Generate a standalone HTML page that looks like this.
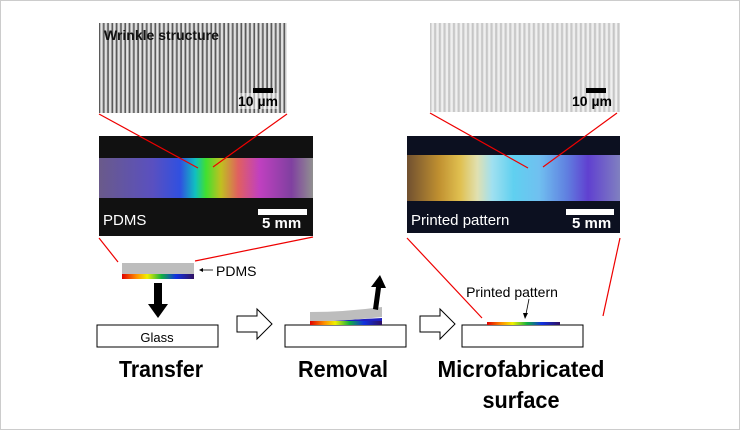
<!DOCTYPE html>
<html><head><meta charset="utf-8"><style>
body{margin:0;width:740px;height:430px;background:#fff;overflow:hidden;font-family:"Liberation Sans",sans-serif}
.frame{position:absolute;left:0;top:0;width:738px;height:428px;border:1px solid #ccc}
.a{position:absolute}
</style></head><body>
<div class="frame"></div>
<!-- left SEM -->
<div class="a" style="left:99px;top:23px;width:188px;height:90px;background:repeating-linear-gradient(90deg,#5a5a5a 0,#5a5a5a 1px,#d8d8d8 1.5px,#e8e8e8 3px,#777 4.3px)"></div>
<div class="a" style="left:104px;top:27px;font-weight:bold;font-size:14px;color:#111">Wrinkle structure</div>
<div class="a" style="left:253px;top:88px;width:20px;height:5px;background:#000"></div>
<div class="a" style="left:238px;top:93px;font-weight:bold;font-size:14px;color:#000;background:rgba(255,255,255,0.5)">10 µm</div>
<!-- left photo -->
<div class="a" style="left:99px;top:136px;width:214px;height:100px;background:#111"></div>
<div class="a" style="left:99px;top:158px;width:214px;height:40px;background:linear-gradient(90deg,#6a5a8a 0%,#5a50c0 25%,#3050e0 38%,#10c0c0 45%,#40e030 50%,#c0c020 57%,#e06060 65%,#c040c0 75%,#8040a0 90%,#909090 100%)"></div>
<div class="a" style="left:103px;top:212px;font-size:15px;color:#fff">PDMS</div>
<div class="a" style="left:258px;top:209px;width:49px;height:6px;background:#fff"></div>
<div class="a" style="left:262px;top:215px;font-weight:bold;font-size:15px;color:#fff">5 mm</div>
<!-- right SEM -->
<div class="a" style="left:430px;top:23px;width:190px;height:89px;background:repeating-linear-gradient(90deg,#c8c8c8 0,#c8c8c8 1px,#ececec 2px,#f2f2f2 3.5px,#c0c0c0 4.7px)"></div>
<div class="a" style="left:586px;top:88px;width:20px;height:5px;background:#000"></div>
<div class="a" style="left:572px;top:93px;font-weight:bold;font-size:14px;color:#000">10 µm</div>
<!-- right photo -->
<div class="a" style="left:407px;top:136px;width:213px;height:97px;background:#0c1020"></div>
<div class="a" style="left:407px;top:155px;width:213px;height:46px;background:linear-gradient(90deg,#705030 0%,#c09030 15%,#e0c050 25%,#e0e0b0 33%,#a0e0f0 40%,#60d0f0 50%,#70c0f0 62%,#6080e0 75%,#6040d0 85%,#8080c0 100%)"></div>
<div class="a" style="left:411px;top:212px;font-size:15px;color:#fff">Printed pattern</div>
<div class="a" style="left:566px;top:209px;width:48px;height:6px;background:#fff"></div>
<div class="a" style="left:572px;top:215px;font-weight:bold;font-size:15px;color:#fff">5 mm</div>

<svg class="a" style="left:0;top:0" width="740" height="430">
<defs>
<linearGradient id="rb" x1="0" x2="1"><stop offset="0" stop-color="#e00000"/><stop offset="0.2" stop-color="#ff9000"/><stop offset="0.35" stop-color="#f0f000"/><stop offset="0.55" stop-color="#10b040"/><stop offset="0.75" stop-color="#1030e0"/><stop offset="1" stop-color="#301060"/></linearGradient>
</defs>
<g stroke="#e00" stroke-width="1.2" fill="none">
<line x1="99" y1="114" x2="198" y2="168"/><line x1="287" y1="114" x2="213" y2="167"/>
<line x1="99" y1="238" x2="118" y2="262"/><line x1="313" y1="237" x2="195" y2="261"/>
<line x1="430" y1="113" x2="528" y2="168"/><line x1="617" y1="113" x2="543" y2="167"/>
<line x1="407" y1="238" x2="482" y2="318"/><line x1="620" y1="238" x2="603" y2="316"/>
</g>
<!-- transfer -->
<rect x="122" y="263" width="72" height="11" fill="#bdbdbd"/>
<rect x="122" y="274" width="72" height="5" fill="url(#rb)"/>
<line x1="213" y1="270" x2="201" y2="270" stroke="#000" stroke-width="0.8"/><path d="M199 270 l4 -2 v4z"/>
<text x="216" y="276" font-size="14" fill="#000">PDMS</text>
<rect x="154" y="283" width="8" height="22" fill="#000"/><path d="M148 304 h20 l-10 14z" fill="#000"/>
<rect x="97" y="325" width="121" height="22" fill="#fff" stroke="#000" stroke-width="1"/>
<text x="157" y="342" font-size="13" text-anchor="middle">Glass</text>
<!-- hollow arrows -->
<path d="M237 316 h20 v-7 l15 15 l-15 15 v-7 h-20z" fill="#fff" stroke="#000"/>
<path d="M420 316 h20 v-7 l15 15 l-15 15 v-7 h-20z" fill="#fff" stroke="#000"/>
<!-- removal -->
<rect x="285" y="325" width="121" height="22" fill="#fff" stroke="#000"/>
<path d="M310 322 L382 322 L382 318 L310 322z" fill="#2020c0"/>
<path d="M310 312 Q345 312 382 307 L382 317 Q345 321 310 322z" fill="#bdbdbd"/>
<rect x="310" y="321" width="72" height="4" fill="url(#rb)"/>
<path d="M373 309 l3 -22 l-5 0 l9 -12 l6 13 l-5 0 l-3 22z" fill="#000"/>
<!-- microfab -->
<rect x="462" y="325" width="121" height="22" fill="#fff" stroke="#000"/>
<rect x="487" y="322" width="73" height="3" fill="url(#rb)"/>
<text x="512" y="297" font-size="14" text-anchor="middle">Printed pattern</text>
<line x1="529" y1="299" x2="526" y2="314" stroke="#000" stroke-width="0.8"/><path d="M525 319 l-2 -6 h5z"/>
<g font-weight="bold" font-size="23" text-anchor="middle" fill="#000">
<text x="161" y="377" textLength="84" lengthAdjust="spacingAndGlyphs">Transfer</text>
<text x="343" y="377" textLength="90" lengthAdjust="spacingAndGlyphs">Removal</text>
<text x="521" y="377" textLength="167" lengthAdjust="spacingAndGlyphs">Microfabricated</text>
<text x="521" y="408" textLength="77" lengthAdjust="spacingAndGlyphs">surface</text>
</g>
</svg>
</body></html>
